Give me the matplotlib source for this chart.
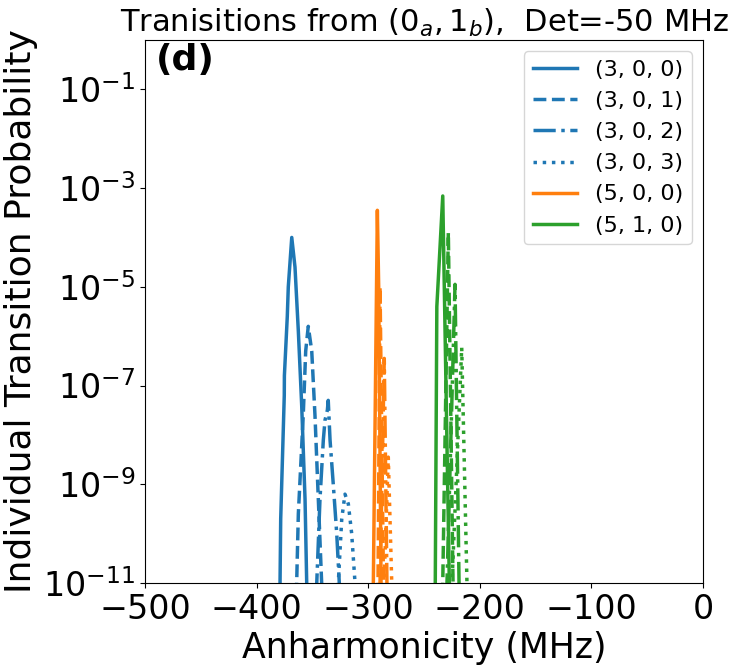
import numpy as np
import matplotlib
matplotlib.use("Agg")
import matplotlib.pyplot as plt

# --- data (x in MHz, log10 of probability) ---
labels = ["(3, 0, 0)", "(3, 0, 1)", "(3, 0, 2)", "(3, 0, 3)", "(5, 0, 0)", "(5, 1, 0)"]

# (3, 0, n) family, blue
x_300 = [-379.5, -379.0, -378.4, -375.2, -375.1, -372.5, -371.6, -368.5, -365.6, -362.6, -359.6, -356.6, -355.1, -354.8]
ly_300 = [-12.0, -11.0, -9.7, -7.2, -6.8, -5.6, -5.0, -4.0, -4.6, -5.9, -7.4, -9.3, -11.0, -12.0]
x_301 = [-364.4, -364.1, -362.6, -358.2, -356.0, -353.7, -350.6, -347.7, -344.7, -341.7, -341.4]
ly_301 = [-12.0, -11.0, -9.6, -7.6, -6.3, -5.8, -6.3, -7.6, -9.3, -11.0, -12.0]
x_302 = [-346.4, -346.1, -343.2, -340.2, -338.7, -336.6, -335.8, -334.2, -331.3, -328.2, -325.9, -325.6]
ly_302 = [-12.0, -11.0, -9.3, -8.1, -7.7, -7.5, -7.3, -8.1, -9.0, -10.0, -11.0, -12.0]
x_303 = [-327.1, -326.8, -323.7, -320.8, -317.8, -314.8, -311.8, -311.5]
ly_303 = [-12.0, -11.0, -9.7, -9.2, -9.4, -10.0, -11.0, -12.0]

# (5, 0, n) family, orange
x_500 = [-295.6, -295.4, -291.8, -290.6, -288.5, -288.3]
ly_500 = [-12.0, -11.0, -3.45, -5.0, -11.0, -12.0]
x_501 = [-291.3, -291.2, -289.4, -286.3, -286.2]
ly_501 = [-12.0, -11.0, -5.0, -11.0, -12.0]
x_502 = [-289.5, -289.4, -285.6, -283.2, -283.1]
ly_502 = [-12.0, -11.0, -6.45, -11.0, -12.0]
x_503 = [-285.9, -285.8, -282.0, -278.9, -278.8]
ly_503 = [-12.0, -11.0, -8.45, -11.0, -12.0]

# (5, 1, n) family, green
x_510 = [-240.0, -239.9, -238.5, -233.2, -227.3, -227.2]
ly_510 = [-12.0, -11.0, -5.4, -3.16, -11.0, -12.0]
x_511 = [-233.3, -233.2, -228.2, -224.0, -223.9]
ly_511 = [-12.0, -11.0, -3.9, -11.0, -12.0]
x_512 = [-229.5, -229.4, -222.2, -218.6, -218.5]
ly_512 = [-12.0, -11.0, -4.95, -11.0, -12.0]
x_513 = [-225.0, -224.9, -216.2, -211.5, -211.4]
ly_513 = [-12.0, -11.0, -6.23, -11.0, -12.0]

xticks = [-500, -400, -300, -200, -100, 0]
yticks = [1e-11, 1e-9, 1e-7, 1e-5, 1e-3, 1e-1]

blue, orange, green = "#1f77b4", "#ff7f0e", "#2ca02c"
styles = ["-", "--", "-.", ":"]

fig = plt.figure(figsize=(7.30, 6.67), dpi=100)
ax = fig.add_axes([145 / 730, 84 / 667, 558 / 730, 543 / 667])

families = [
    (blue, [(x_300, ly_300), (x_301, ly_301), (x_302, ly_302), (x_303, ly_303)], labels[:4]),
    (orange, [(x_500, ly_500), (x_501, ly_501), (x_502, ly_502), (x_503, ly_503)], [labels[4], None, None, None]),
    (green, [(x_510, ly_510), (x_511, ly_511), (x_512, ly_512), (x_513, ly_513)], [labels[5], None, None, None]),
]
for color, curves, labs in families:
    for (xs, lys), ls, lab in zip(curves, styles, labs):
        ax.plot(xs, 10.0 ** np.array(lys), color=color, ls=ls, lw=2.5, label=lab)

ax.set_yscale("log")
ax.set_xlim(-500, 0)
ax.set_ylim(1e-11, 1)
ax.set_xticks(xticks)
ax.set_yticks(yticks)
ax.minorticks_off()
ax.tick_params(labelsize=24)

ax.set_xlabel("Anharmonicity (MHz)", fontsize=25)
ax.set_ylabel("Individual Transition Probability", fontsize=26)
ax.set_title("Tranisitions from $(0_a, 1_b)$,  Det=-50 MHz", fontsize=22)
ax.text(0.02, 0.995, "(d)", transform=ax.transAxes, fontsize=26,
        fontweight="bold", va="top", ha="left")
ax.legend(loc="upper right", fontsize=16)

fig.savefig("out.png", dpi=100)
